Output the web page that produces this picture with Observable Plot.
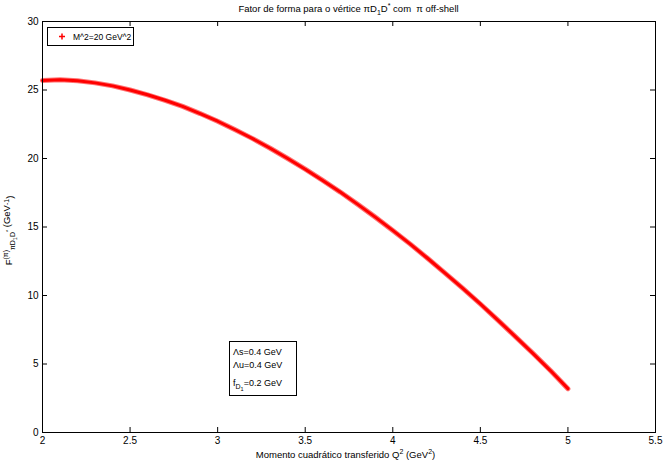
<!DOCTYPE html>
<html>
<head>
<meta charset="utf-8">
<script src="https://cdn.jsdelivr.net/npm/d3@7"></script>
<script src="https://cdn.jsdelivr.net/npm/@observablehq/plot@0.6"></script>
<style>
  html, body { margin: 0; padding: 0; background: #fff; }
  #chart { position: relative; width: 664px; height: 461px; }
  svg { font-family: "Liberation Sans", Arial, sans-serif; }
</style>
</head>
<body>
<div id="chart"></div>
<script>
// Q^2 values (GeV^2) and form factor values (GeV^-1)
const q2 = [2.0, 2.1, 2.2, 2.3, 2.4, 2.5, 2.6, 2.7, 2.8, 2.9, 3.0, 3.1, 3.2, 3.3, 3.4, 3.5, 3.6, 3.7, 3.8, 3.9, 4.0, 4.1, 4.2, 4.3, 4.4, 4.5, 4.6, 4.7, 4.8, 4.9, 5.0];
const formFactor = [25.70, 25.75, 25.67, 25.52, 25.30, 25.00, 24.65, 24.25, 23.80, 23.28, 22.72, 22.10, 21.45, 20.75, 20.00, 19.22, 18.40, 17.55, 16.65, 15.72, 14.75, 13.75, 12.70, 11.62, 10.52, 9.38, 8.20, 7.00, 5.78, 4.52, 3.20];
const xTicks = [2, 2.5, 3, 3.5, 4, 4.5, 5, 5.5];
const yTicks = [0, 5, 10, 15, 20, 25, 30];
const seriesLabel = "M^2=20 GeV^2";
const annotations = ["\u039Bs=0.4 GeV", "\u039Bu=0.4 GeV"];

const data = q2.map((x, i) => ({x, y: formFactor[i]}));

const W = 664, H = 461;
const mL = 42, mR = 9, mT = 21, mB = 29;
const plotH = H - mT - mB, plotW = W - mL - mR;

const plot = Plot.plot({
  width: W,
  height: H,
  marginLeft: mL,
  marginRight: mR,
  marginTop: mT,
  marginBottom: mB,
  style: {fontFamily: '"Liberation Sans", Arial, sans-serif', fontSize: "10px", color: "#000", background: "#fff"},
  x: {domain: [2, 5.5]},
  y: {domain: [0, 30]},
  marks: [
    Plot.line(data, {x: "x", y: "y", stroke: "#ff0000", strokeWidth: 5, strokeOpacity: 0.55}),
    Plot.line(data, {x: "x", y: "y", stroke: "#ff0000", strokeWidth: 3}),
    // inward ticks (bottom, top, left, right)
    Plot.tickX(xTicks, {x: d => d, stroke: "#000", insetTop: plotH - 5}),
    Plot.tickX(xTicks, {x: d => d, stroke: "#000", insetBottom: plotH - 5}),
    Plot.tickY(yTicks, {y: d => d, stroke: "#000", insetRight: plotW - 5}),
    Plot.tickY(yTicks, {y: d => d, stroke: "#000", insetLeft: plotW - 5}),
    Plot.axisX(xTicks, {tickSize: 0, tickPadding: 4, tickFormat: d => String(d), label: null, fontSize: 10}),
    Plot.axisY(yTicks, {tickSize: 0, tickPadding: 4, tickFormat: d => String(d), label: null, fontSize: 10}),
    Plot.frame({stroke: "#000", strokeWidth: 1})
  ]
});

document.getElementById("chart").appendChild(plot);

const svg = d3.select(plot);
const font = '"Liberation Sans", Arial, sans-serif';

// Title
const title = svg.append("text")
  .attr("x", mL + plotW / 2).attr("y", 12)
  .attr("text-anchor", "middle").attr("font-size", 9.5).attr("font-family", font).attr("fill", "#000");
title.append("tspan").text("Fator de forma para o v\u00e9rtice \u03c0D");
title.append("tspan").attr("font-size", 7).attr("dy", 3).text("1");
title.append("tspan").attr("dy", -3).text("D");
title.append("tspan").attr("font-size", 7).attr("dy", -4).text("*");
title.append("tspan").attr("dy", 4).text(" com  \u03c0 off-shell");

// X label
const xl = svg.append("text")
  .attr("x", mL + plotW / 2 - 3).attr("y", H - 3)
  .attr("text-anchor", "middle").attr("font-size", 9.5).attr("font-family", font).attr("fill", "#000");
xl.append("tspan").text("Momento cuadr\u00e1tico transferido Q");
xl.append("tspan").attr("font-size", 7).attr("dy", -4).text("2");
xl.append("tspan").attr("dy", 4).text(" (GeV");
xl.append("tspan").attr("font-size", 7).attr("dy", -4).text("2");
xl.append("tspan").attr("dy", 4).text(")");

// Y label
const yl = svg.append("text")
  .attr("transform", `translate(12, ${mT + plotH / 2 + 4}) rotate(-90)`)
  .attr("text-anchor", "middle").attr("font-size", 9.5).attr("font-family", font).attr("fill", "#000");
yl.append("tspan").text("F");
yl.append("tspan").attr("font-size", 7).attr("dy", -4).text("(\u03c0)");
yl.append("tspan").attr("font-size", 7).attr("dy", 7).text("\u03c0D");
yl.append("tspan").attr("font-size", 5.5).attr("dy", 2).text("1");
yl.append("tspan").attr("font-size", 7).attr("dy", -2).text("D");
yl.append("tspan").attr("font-size", 5.5).attr("dy", -5).text("*");
yl.append("tspan").attr("dy", 0).text(" (GeV");
yl.append("tspan").attr("font-size", 7).attr("dy", -1).text("-1");
yl.append("tspan").attr("dy", 4).text(")");

// Legend box
const lg = svg.append("g").attr("text-anchor", "start");
lg.append("rect").attr("x", 47.5).attr("y", 27.5).attr("width", 86).attr("height", 18)
  .attr("fill", "#fff").attr("stroke", "#000");
lg.append("path").attr("d", "M59,36.5h6M62,33.5v6").attr("stroke", "#ff0000").attr("stroke-width", 1.5);
lg.append("text").attr("x", 73).attr("y", 40).attr("font-size", 8.5).attr("font-family", font)
  .attr("text-anchor", "start").attr("fill", "#000").text(seriesLabel);

// Annotation box
const an = svg.append("g").attr("text-anchor", "start");
an.append("rect").attr("x", 229.5).attr("y", 341.5).attr("width", 67).attr("height", 54)
  .attr("fill", "#fff").attr("stroke", "#000");
annotations.forEach((t, i) => {
  an.append("text").attr("x", 233).attr("y", 355 + i * 13).attr("font-size", 9)
    .attr("text-anchor", "start").attr("font-family", font).attr("fill", "#000").text(t);
});
const fd = an.append("text").attr("x", 233).attr("y", 386).attr("font-size", 9)
  .attr("text-anchor", "start").attr("font-family", font).attr("fill", "#000");
fd.append("tspan").text("f");
fd.append("tspan").attr("font-size", 7).attr("dy", 3).text("D");
fd.append("tspan").attr("font-size", 5.5).attr("dy", 2).text("1");
fd.append("tspan").attr("dy", -5).text("=0.2 GeV");
</script>
</body>
</html>
